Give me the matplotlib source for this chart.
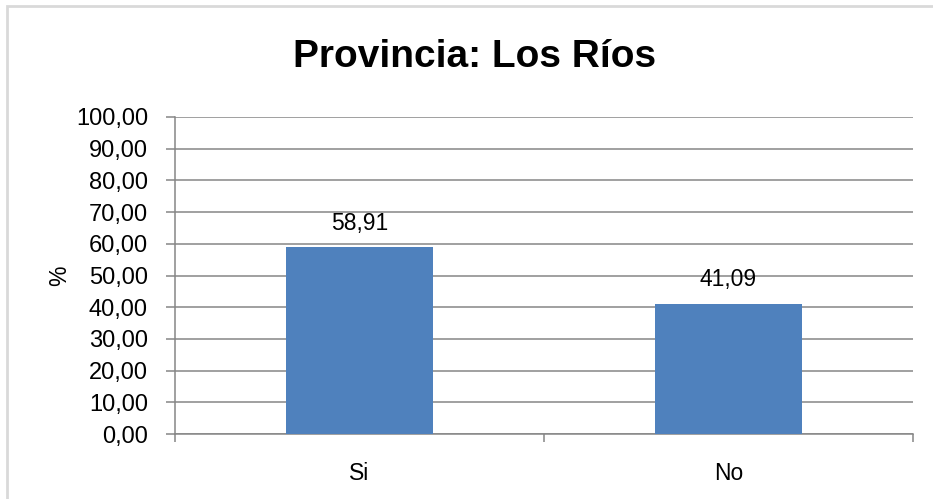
import matplotlib.pyplot as plt
from matplotlib.patches import Rectangle

categories = ["Si", "No"]
values = [58.91, 41.09]
yticks = [0, 10, 20, 30, 40, 50, 60, 70, 80, 90, 100]

plt.rcParams["font.family"] = ["Liberation Sans", "DejaVu Sans"]
grey = "#868686"

fig = plt.figure(figsize=(9.33, 4.99), dpi=100)
fig.patches.append(Rectangle((7 / 933, -0.1), 1.2, 1.1 - 6 / 499, transform=fig.transFigure,
                             fill=False, edgecolor="#d9d9d9", linewidth=2))
ax = fig.add_axes([175 / 933, 65 / 499, 738 / 933, 317 / 499])

x = range(len(categories))
ax.bar(x, values, width=0.396, color="#4f81bd", zorder=3)
for i, v in enumerate(values):
    ax.text(i, v + 4, f"{v:.2f}".replace(".", ","), ha="center", va="bottom", fontsize=16.5)

ax.set_xlim(-0.5, 1.5)
ax.set_ylim(0, 100)
ax.set_yticks(yticks)
ax.set_yticklabels([f"{t:.2f}".replace(".", ",") for t in yticks], fontsize=17)
ax.set_xticks([-0.5, 0.5, 1.5], minor=False)
ax.set_xticklabels([])
ax.set_xticks(list(x), minor=True)
ax.set_xticklabels(categories, minor=True, fontsize=16.5)
ax.tick_params(axis="x", which="minor", length=0, pad=20)
ax.tick_params(axis="x", which="major", length=5.5, width=1.1, color=grey, direction="out")
ax.tick_params(axis="y", length=6.5, width=1.1, color=grey, direction="out", pad=13)
ax.grid(axis="y", color=grey, linewidth=1.1, zorder=0)
for s in ["top", "right"]:
    ax.spines[s].set_visible(False)
for s in ["left", "bottom"]:
    ax.spines[s].set_color(grey)
    ax.spines[s].set_linewidth(1.1)
ax.set_ylabel("%", fontsize=16.5, labelpad=3)

fig.suptitle("Provincia: Los Ríos", x=475 / 933, y=1 - 57 / 499, va="center",
             fontsize=28, fontweight="bold")

fig.savefig("out.png", dpi=100)
